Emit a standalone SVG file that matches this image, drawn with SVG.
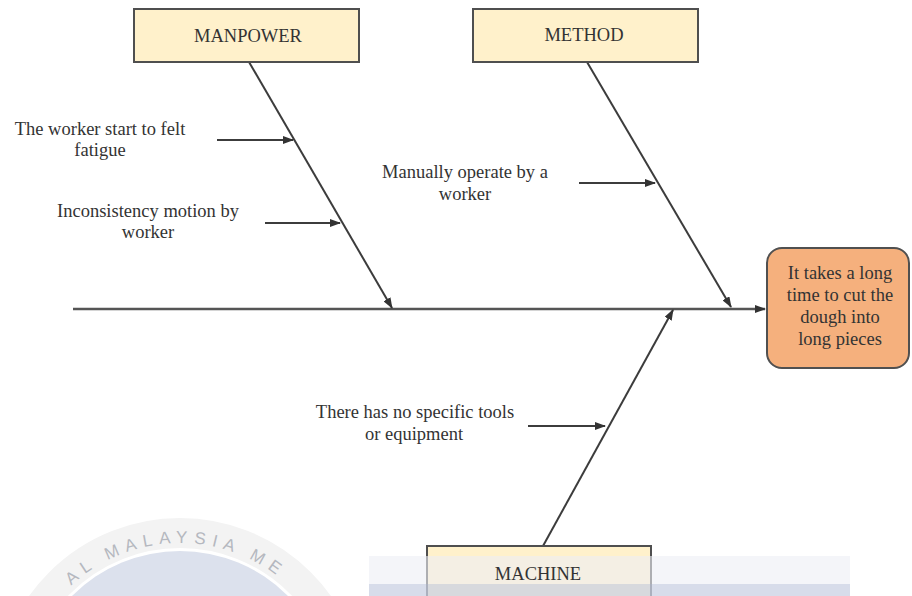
<svg xmlns="http://www.w3.org/2000/svg" width="912" height="596" viewBox="0 0 912 596">
  <style>
    .cat { fill: #fff1cb; stroke: #4f4f4f; stroke-width: 2; }
    .effect { fill: #f5b07d; stroke: #505050; stroke-width: 2; }
    .label { font-family: "Liberation Serif", "Times New Roman", serif; font-size: 18.5px; fill: #333333; text-anchor: middle; }
    .bone { stroke: #3c3c3c; stroke-width: 2; fill: none; marker-end: url(#head); }
    .spine { stroke: #555555; stroke-width: 2.6; fill: none; marker-end: url(#head); }
    .seal { font-family: "Liberation Sans", Arial, sans-serif; font-size: 17px; fill: #b5b8bf; letter-spacing: 6.5px; }
  </style>
  <defs>
    <marker id="head" markerUnits="userSpaceOnUse" markerWidth="11" markerHeight="8" refX="10" refY="4" orient="auto">
      <path d="M0,0 L11,4 L0,8 z" fill="#333333"/>
    </marker>
    <path id="sealArc" d="M 20 703 A 160 160 0 0 1 340 703"/>
  </defs>

  <rect width="912" height="596" fill="#ffffff"/>

  <!-- faint university seal in the lower left -->
  <g id="seal">
    <circle cx="180" cy="703" r="170" fill="none" stroke="#f3f3f3" stroke-width="30"/>
    <circle cx="180" cy="703" r="152" fill="#dce1ed"/>
    <text class="seal"><textPath href="#sealArc" startOffset="49%" text-anchor="middle">AL MALAYSIA ME</textPath></text>
  </g>

  <!-- connectors: spine, category bones and cause arrows -->
  <g id="connectors">
    <line class="spine" x1="73" y1="309" x2="765" y2="309"/>
    <line class="bone" x1="249" y1="62" x2="392" y2="308"/>
    <line class="bone" x1="587" y1="62" x2="731" y2="307"/>
    <line class="bone" x1="543" y1="546" x2="673" y2="310"/>
    <line class="bone" x1="217" y1="140" x2="293" y2="140"/>
    <line class="bone" x1="265" y1="223" x2="340" y2="223"/>
    <line class="bone" x1="579" y1="183" x2="655" y2="183"/>
    <line class="bone" x1="528" y1="426" x2="605" y2="426"/>
  </g>

  <g id="manpower">
    <rect class="cat" x="134" y="9" width="225" height="53"/>
    <text class="label" x="248" y="42">MANPOWER</text>
  </g>

  <g id="method">
    <rect class="cat" x="473" y="9" width="225" height="53"/>
    <text class="label" x="584" y="41">METHOD</text>
  </g>

  <g id="machine">
    <rect class="cat" x="427" y="546" width="224" height="60"/>
  </g>

  <!-- pale band across the lower edge -->
  <g id="band">
    <rect x="369" y="556" width="481" height="28" fill="#eceff5" opacity="0.6"/>
    <rect x="369" y="584" width="481" height="12" fill="#c9d0e3" opacity="0.75"/>
  </g>
  <text class="label" x="538" y="580">MACHINE</text>

  <g id="effect">
    <rect class="effect" x="767" y="248" width="142" height="120" rx="15"/>
    <text class="label" x="840" y="279">It takes a long</text>
    <text class="label" x="840" y="301">time to cut the</text>
    <text class="label" x="840" y="323">dough into</text>
    <text class="label" x="840" y="345">long pieces</text>
  </g>

  <g id="cause-fatigue">
    <text class="label" x="100" y="135">The worker start to felt</text>
    <text class="label" x="100" y="156">fatigue</text>
  </g>

  <g id="cause-motion">
    <text class="label" x="148" y="217">Inconsistency motion by</text>
    <text class="label" x="148" y="238">worker</text>
  </g>

  <g id="cause-manual">
    <text class="label" x="465" y="178">Manually operate by a</text>
    <text class="label" x="465" y="200">worker</text>
  </g>

  <g id="cause-tools">
    <text class="label" x="415" y="418">There has no specific tools</text>
    <text class="label" x="414" y="440">or equipment</text>
  </g>
</svg>
